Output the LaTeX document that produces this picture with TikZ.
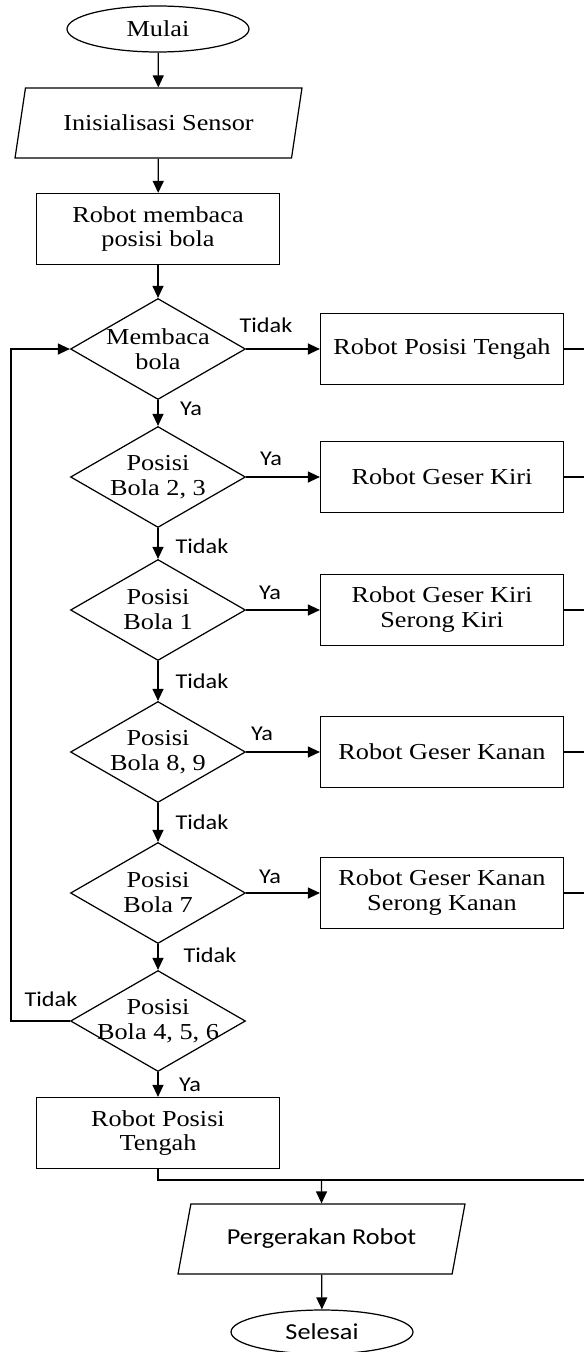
\documentclass[tikz,border=0pt]{standalone}
\usepackage{fontspec}
\setmainfont{Liberation Serif}[FakeStretch=1.15]
\newfontfamily\labelfont{Carlito}[FakeStretch=1.15]
\usetikzlibrary{arrows.meta,shapes.geometric,positioning}

\begin{document}
\begin{tikzpicture}
			[x=0.02cm, y=-0.02cm, line width=0.7pt,
			terminal/.style={ellipse, draw, minimum width=3.64cm, minimum height=0.92cm, inner sep=0pt, font=\fontsize{13}{14.2}\selectfont},
			io/.style={trapezium, trapezium left angle=57, trapezium right angle=123, trapezium stretches body=true, draw, minimum width=5.74cm, minimum height=1.4cm, inner sep=0pt, font=\fontsize{13}{14.2}\selectfont},
			process/.style={rectangle, draw, minimum width=4.86cm, minimum height=1.42cm, inner sep=0pt, align=center, font=\fontsize{13}{14.2}\selectfont},
			decision/.style={diamond, draw, aspect=1.73, minimum width=3.5cm, minimum height=2.02cm, inner sep=-12pt, align=center, font=\fontsize{13}{14.2}\selectfont},
			lbl/.style={inner sep=0pt, font=\labelfont\fontsize{12}{14}\selectfont},
			arr/.style={-{Triangle[length=2.4mm, width=2.2mm]}},]
			\useasboundingbox (0,0) rectangle (584,1352);
			% main column
			\node[terminal] (mulai) at (158, 29) {Mulai};
			\node[io] (init) at (158.5, 123) {Inisialisasi Sensor};
			\node[process] (baca) at (158, 229) {Robot membaca\\posisi bola};
			\node[decision] (d1) at (158, 349) {Membaca\\bola};
			\node[decision] (d2) at (158, 477) {Posisi\\Bola 2, 3};
			\node[decision] (d3) at (158, 610) {Posisi\\Bola 1};
			\node[decision] (d4) at (158, 752) {Posisi\\Bola 8, 9};
			\node[decision] (d5) at (158, 893) {Posisi\\Bola 7};
			\node[decision] (d6) at (158, 1021) {Posisi\\Bola 4, 5, 6};
			\node[process] (tengah) at (158, 1133) {Robot Posisi\\Tengah};
			\node[io, font=\labelfont\fontsize{13}{14.2}\selectfont] (gerak) at (321.5, 1239) {Pergerakan Robot};
			\node[terminal, minimum height=0.88cm, font=\labelfont\fontsize{13}{14.2}\selectfont] (selesai) at (322, 1332) {Selesai};
			% right column
			\node[process] (r1) at (442, 349) {Robot Posisi Tengah};
			\node[process] (r2) at (442, 477) {Robot Geser Kiri};
			\node[process] (r3) at (442, 610) {Robot Geser Kiri\\Serong Kiri};
			\node[process] (r4) at (442, 752) {Robot Geser Kanan};
			\node[process] (r5) at (442, 893) {Robot Geser Kanan\\Serong Kanan};
			\coordinate (rail) at (588, 1180);
			\coordinate (loop) at (11, 1021);
			% labels
			\node[lbl] (t1) at (266, 325) {Tidak};
			\node[lbl] (y1) at (191, 409) {Ya};
			\node[lbl] (y2) at (271, 459) {Ya};
			\node[lbl] (t2) at (202, 546) {Tidak};
			\node[lbl] (y3) at (270, 593) {Ya};
			\node[lbl] (t3) at (202, 681) {Tidak};
			\node[lbl] (y4) at (262, 734) {Ya};
			\node[lbl] (t4) at (202, 822) {Tidak};
			\node[lbl] (y5) at (270, 877) {Ya};
			\node[lbl] (t5) at (210, 955) {Tidak};
			\node[lbl] (t6) at (51, 999) {Tidak};
			\node[lbl] (y6) at (190, 1085) {Ya};
			% connectors
			\draw[arr] (mulai) -- (init);
			\draw[arr] (init) -- (baca);
			\draw[arr] (baca) -- (d1);
			\draw[arr] (d1) -- (d2);
			\draw[arr] (d2) -- (d3);
			\draw[arr] (d3) -- (d4);
			\draw[arr] (d4) -- (d5);
			\draw[arr] (d5) -- (d6);
			\draw[arr] (d6) -- (tengah);
			\draw[arr] (d1.east) -- (r1.west);
			\draw[arr] (d2.east) -- (r2.west);
			\draw[arr] (d3.east) -- (r3.west);
			\draw[arr] (d4.east) -- (r4.west);
			\draw[arr] (d5.east) -- (r5.west);
			\draw (r1.east) -- (r1.east -| rail);
			\draw (r2.east) -- (r2.east -| rail);
			\draw (r3.east) -- (r3.east -| rail);
			\draw (r4.east) -- (r4.east -| rail);
			\draw (r5.east) -- (r5.east -| rail);
			\draw (r1.east -| rail) -- (rail);
			\draw (tengah.south) |- (rail);
			\draw[arr] (gerak.north |- rail) -- (gerak);
			\draw[arr] (gerak) -- (selesai);
			\draw[arr] (d6.west) -- (loop) |- (d1.west);
\end{tikzpicture}
\end{document}
